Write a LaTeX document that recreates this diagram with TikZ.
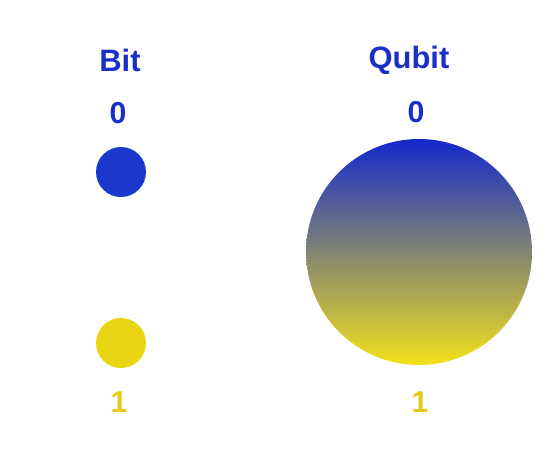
\documentclass[tikz,border=0pt]{standalone}
\usepackage{fontspec}
\setmainfont{Liberation Sans}
\usetikzlibrary{positioning}
\definecolor{BitBlue}{HTML}{1C38CC}
\definecolor{BitYellow}{HTML}{E9D512}
\definecolor{TopBlue}{HTML}{1428CC}
\definecolor{BottomYellow}{HTML}{F2E21A}
\definecolor{LabelBlue}{HTML}{1A2FC8}
\definecolor{LabelYellow}{HTML}{E6C91C}
\tikzset{
    title/.style={text=LabelBlue, font=\bfseries\fontsize{22}{26}\selectfont},
    stateblue/.style={text=LabelBlue, font=\bfseries\fontsize{21.5}{26}\selectfont},
    stateyellow/.style={text=LabelYellow, font=\bfseries\fontsize{21.5}{26}\selectfont},
    bitdot/.style={circle, inner sep=0pt, minimum size=1.25cm},
    qubitdot/.style={circle, inner sep=0pt, minimum size=5.65cm, top color=TopBlue, bottom color=BottomYellow},
}
\begin{document}
\begin{tikzpicture}
                \useasboundingbox (0,0) rectangle (14,-11.8);
                % Bit classico
                \node[title] (bittitle) at (3.0,-1.5) {Bit};
                \node[bitdot, fill=BitBlue] (bit0) at (3.025,-4.3) {};
                \node[bitdot, fill=BitYellow] (bit1) at (3.025,-8.575) {};
                \node[stateblue] (bitzero) at (2.95,-2.825) {0};
                \node[stateyellow] (bitone) at (2.975,-10.05) {1};
                
                % Qubit (sovrapposizione)
                \node[title] (qubittitle) at (10.225,-1.5) {Qubit};
                \node[qubitdot] (qubit) at (10.475,-6.3) {};
                \node[stateblue] (qubitzero) at (10.4,-2.8) {0};
                \node[stateyellow] (qubitone) at (10.5,-10.05) {1};
\end{tikzpicture}
\end{document}
